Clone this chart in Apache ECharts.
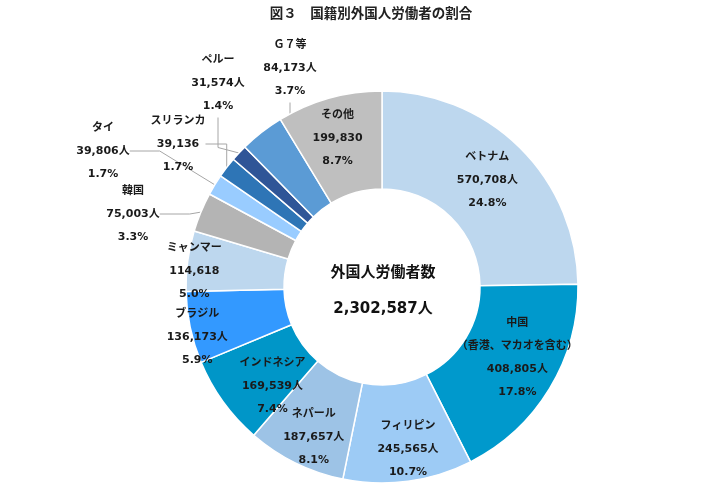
<!DOCTYPE html>
<html>
<head>
<meta charset="utf-8">
<script src="https://cdn.jsdelivr.net/npm/echarts@6/dist/echarts.min.js"></script>
<style>
  html, body { margin: 0; padding: 0; background: #fff; }
  #show-report { width: 711px; height: 495px; }
</style>
</head>
<body>
<div id="show-report"></div>
<script>
;(function(window){

  // 国籍 (時計回り、ベトナムから)
  var countries = ['ベトナム', '中国\n（香港、マカオを含む）', 'フィリピン', 'ネパール', 'インドネシア',
    'ブラジル', 'ミャンマー', '韓国', 'タイ', 'スリランカ', 'ペルー', 'Ｇ７等', 'その他'];
  var workers = [570708, 408805, 245565, 187657, 169539, 136173, 114618, 75003, 39806, 39136, 31574, 84173, 199830];
  var units = ['人', '人', '人', '人', '人', '人', '', '人', '人', '', '人', '人', ''];
  var totalLabel = '外国人労働者数';
  var totalUnit = '人';

  var colors = ['#BDD7EE', '#0099CC', '#9DCBF5', '#9DC3E6', '#0096C8', '#3399FF', '#BDD7EE',
    '#B4B4B4', '#99CCFF', '#2E75B6', '#2F5597', '#5B9BD5', '#BFBFBF'];

  // ラベルの微調整 (内側ラベル)
  var labelShift = [[0, 0], [7, -7], [6, 13], [-2, 16], [12, 11], [-38, 19], [-39, 4],
    null, null, null, null, null, [-4, -4]];
  // 外側ラベルの位置 (引き出し線あり)
  var outerPos = { 7: [133, 214], 8: [103, 151], 9: [178, 144], 10: [218, 83], 11: [290, 68] };

  var total = 0;
  workers.forEach(function(v){ total += v; });

  var fmt = function(v){ return v.toString().replace(/\B(?=(\d{3})+(?!\d))/g, ','); };
  var fontFam = 'DejaVu Sans, "Noto Sans CJK JP", sans-serif';

  var data = countries.map(function(name, i){
    var item = { name: name, value: workers[i], itemStyle: { color: colors[i] } };
    if (outerPos[i]) {
      item.label = { position: 'outside' };
      item.labelLine = { show: true };
    } else {
      item.label = { position: 'inside', offset: labelShift[i] };
    }
    return item;
  });

  var myChart = echarts.init(document.getElementById('show-report'));

  var option = {
    animation: false,
    title: {
      text: '図３　国籍別外国人労働者の割合',
      left: 366,
      top: 3,
      textAlign: 'center',
      textStyle: { fontSize: 13.5, fontWeight: 'bold', color: '#222', fontFamily: fontFam }
    },
    graphic: [{
      type: 'text',
      x: 383, y: 273, z: 100,
      style: {
        text: totalLabel,
        align: 'center', verticalAlign: 'middle',
        fill: '#111',
        font: 'bold 15px ' + fontFam
      }
    }, {
      type: 'text',
      x: 383, y: 309, z: 100,
      style: {
        text: fmt(total) + totalUnit,
        align: 'center', verticalAlign: 'middle',
        fill: '#111',
        font: 'bold 15px ' + fontFam
      }
    }],
    series: [{
      type: 'pie',
      center: [382, 287],
      radius: [98, 196],
      startAngle: 90,
      clockwise: true,
      avoidLabelOverlap: false,
      itemStyle: { borderColor: '#fff', borderWidth: 1.5 },
      label: {
        color: '#1a1a1a',
        fontSize: 11,
        fontWeight: 'bold',
        fontFamily: fontFam,
        lineHeight: 23,
        align: 'center',
        formatter: function(p){
          var i = p.dataIndex;
          return p.name + '\n' + fmt(p.value) + units[i] + '\n' + (p.value / total * 100).toFixed(1) + '%';
        }
      },
      labelLine: { show: false, lineStyle: { color: '#A6A6A6', width: 1 } },
      labelLayout: function(params){
        var pos = outerPos[params.dataIndex];
        if (!pos) return {};
        return { x: pos[0], y: pos[1], align: 'center', verticalAlign: 'middle' };
      },
      data: data
    }]
  };

  myChart.setOption(option);
})(window)
</script>
</body>
</html>
